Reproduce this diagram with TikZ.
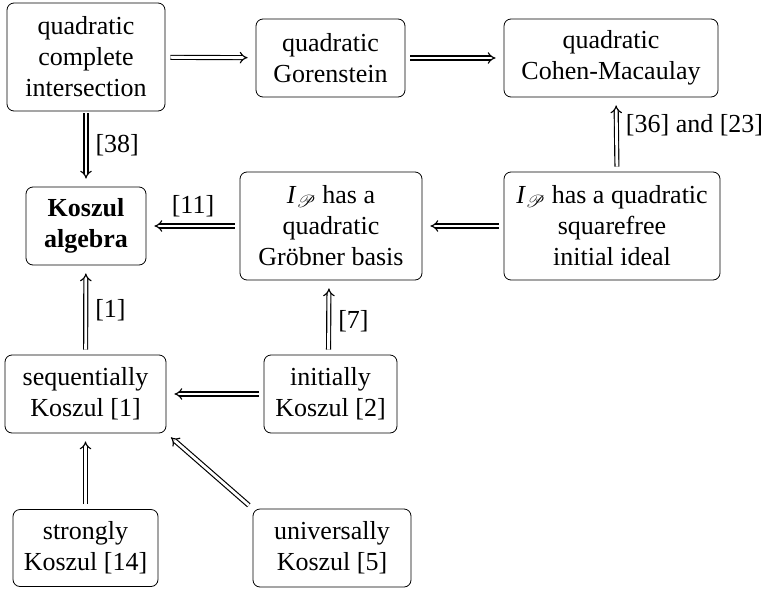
\documentclass[tikz,border=0pt]{standalone}
\usepackage{fontspec}
\setmainfont{Liberation Serif}
\usepackage{mathrsfs}
\usetikzlibrary{arrows.meta}
\begin{document}
\begin{tikzpicture}[x=1pt,y=-1pt,
  box/.style={draw, rounded corners=7pt, line width=0.8pt, align=center, inner sep=0pt,
    font=\fontsize{26}{31}\selectfont},
  imp/.style={double, double distance=2.8pt, line width=1.15pt, -{Implies[scale=1.1]},
    shorten <=5pt, shorten >=8pt},
  lab/.style={font=\fontsize{26}{31}\selectfont, inner sep=0pt}]
\useasboundingbox (0,0) rectangle (765,589);

\node[box, minimum width=158pt, minimum height=108pt] (qci) at (86,57) {quadratic\\complete\\intersection};
\node[box, minimum width=149pt, minimum height=78pt] (gor) at (330.5,58) {quadratic\\Gorenstein};
\node[box, minimum width=214pt, minimum height=78pt] (cm) at (611,58) {quadratic\\Cohen-Macaulay};
\node[box, minimum width=120pt, minimum height=78pt] (kos) at (86,226) {\bfseries Koszul\\\bfseries algebra};
\node[box, minimum width=182pt, minimum height=108pt] (gb) at (331,226) {\textit{I}$_{\mathscr{P}}$ has a\\quadratic\\Gröbner basis};
\node[box, minimum width=216pt, minimum height=108pt] (sf) at (612,226) {\textit{I}$_{\mathscr{P}}$ has a quadratic\\squarefree\\initial ideal};
\node[box, minimum width=161pt, minimum height=78pt] (seq) at (85.5,394) {sequentially\\Koszul [1]};
\node[box, minimum width=133pt, minimum height=78pt] (ini) at (330.5,394) {initially\\Koszul [2]};
\node[box, minimum width=145pt, minimum height=77pt] (str) at (85.5,548) {strongly\\Koszul [14]};
\node[box, minimum width=158pt, minimum height=78pt] (uni) at (332,548) {universally\\Koszul [5]};

\draw[imp] (qci) -- (gor);
\draw[imp] (gor) -- (cm);
\draw[imp, shorten <=2pt] (qci) -- node[lab, right=9pt, pos=0.45] (l38) {[38]} (kos);
\draw[imp] ([xshift=5pt]sf.north) -- node[lab, right=9pt, pos=0.62] (l36) {[36] and [23]} ([xshift=5pt]cm.south);
\draw[imp] (sf) -- (gb);
\draw[imp] (gb) -- node[lab, above=8pt] (l11) {[11]} (kos.east |- gb);
\draw[imp] (seq) -- node[lab, right=9pt] (l1) {[1]} (kos);
\draw[imp] ([xshift=-2pt]ini.north) -- node[lab, right=9pt, pos=0.45] (l7) {[7]} ([xshift=-2pt]gb.south);
\draw[imp] (ini) -- (seq);
\draw[imp] (str) -- (seq);
\draw[imp, shorten <=5pt, shorten >=6pt] (uni.north west) -- (seq.south east);
\end{tikzpicture}
\end{document}
